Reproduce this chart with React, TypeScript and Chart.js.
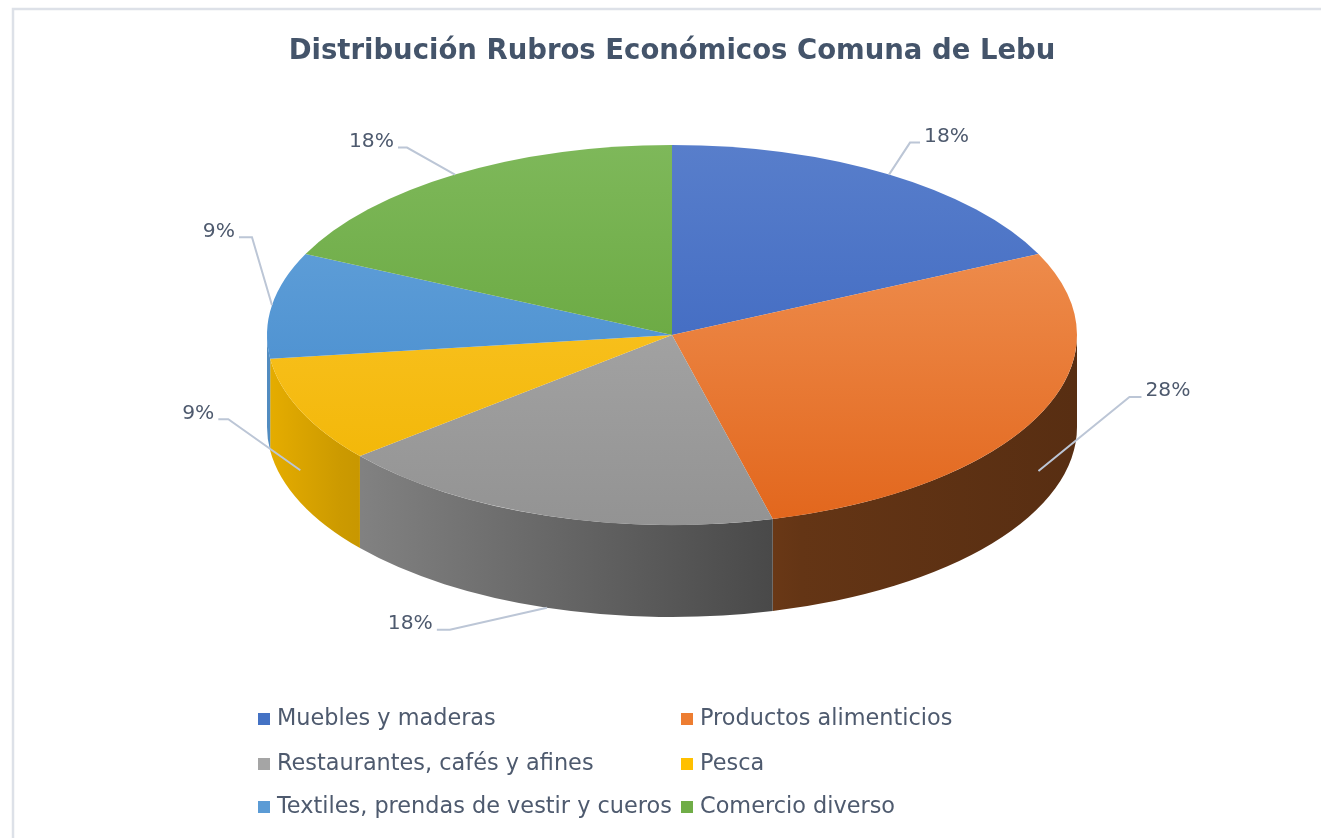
import React, { useEffect, useRef } from "react";
import { Chart, registerables } from "chart.js";

Chart.register(...registerables);

// ---------------- data ----------------
const TITLE = "Distribución Rubros Económicos Comuna de Lebu";
const CATEGORIES = [
  "Muebles y maderas",
  "Productos alimenticios",
  "Restaurantes, cafés y afines",
  "Pesca",
  "Textiles, prendas de vestir y cueros",
  "Comercio diverso",
];
const VALUES = [18, 28, 18, 9, 9, 18];

// ---------------- style ----------------
const BASE_COLORS = ["#4472C4", "#ED7D31", "#A5A5A5", "#FFC000", "#5B9BD5", "#70AD47"];
const TOP_LIGHT = ["#587ECB", "#F29A5E", "#B0B0B0", "#FFCA36", "#69A6DC", "#7EB85A"];
const TOP_DARK = ["#335FBD", "#E2661C", "#939393", "#F0B400", "#3D85CA", "#5C9E30"];
const WALL_STOPS: [number, number][] = [
  [0, 0.9],
  [0.09, 0.8],
  [0.66, 0.42],
  [1, 0.37],
];
// leader-line layout per slice: fraction of wall depth for anchor, elbow offset, tail length
const LABEL_LAYOUT = [
  { depth: 0, dx: 21, dy: -32, tail: 10 },
  { depth: 0.6, dx: 91, dy: -74, tail: 12 },
  { depth: 1, dx: -97, dy: 22, tail: 13 },
  { depth: 0.65, dx: -72, dy: -51, tail: 10 },
  { depth: 0, dx: -20, dy: -68, tail: 13 },
  { depth: 0, dx: -48, dy: -27, tail: 9 },
];

const W = 1321;
const H = 838;
const PIE_CX = 672;
const PIE_RX = 405;
const PIE_CY = 335;
const PIE_RY = 190;
const DEPTH = 92;
const FONT = "'DejaVu Sans', 'Open Sans', sans-serif";
const TEXT_COLOR = "#4E5A6E";
const TITLE_COLOR = "#44546A";
const LEADER_COLOR = "#BCC6D6";
const LEGEND_COLS_X = [258, 681];
const LEGEND_ROWS_Y = [719, 764, 807];

function shade(hex: string, f: number) {
  const n = parseInt(hex.slice(1), 16);
  const r = Math.round(((n >> 16) & 255) * f);
  const g = Math.round(((n >> 8) & 255) * f);
  const b = Math.round((n & 255) * f);
  return `rgb(${r},${g},${b})`;
}

function fitFont(ctx: CanvasRenderingContext2D, text: string, target: number, weight: string) {
  ctx.font = `${weight} 20px ${FONT}`;
  const w = ctx.measureText(text).width;
  const size = (20 * target) / w;
  return `${weight} ${size.toFixed(2)}px ${FONT}`;
}

const pie3d = {
  id: "pie3d",
  beforeDatasetsDraw(chart: any) {
    const ctx: CanvasRenderingContext2D = chart.ctx;
    const arcs = chart.getDatasetMeta(0).data as any[];
    if (!arcs.length) return;
    const cx = arcs[0].x;
    const cy0 = arcs[0].y;
    const r = arcs[0].outerRadius;
    arcs.forEach((arc: any, i: number) => {
      const lo = Math.max(arc.startAngle, 0);
      const hi = Math.min(arc.endAngle, Math.PI);
      if (hi <= lo) return;
      ctx.beginPath();
      ctx.ellipse(cx, PIE_CY, r, PIE_RY, 0, lo, hi, false);
      ctx.ellipse(cx, PIE_CY + DEPTH, r, PIE_RY, 0, hi, lo, true);
      ctx.closePath();
      const g = ctx.createLinearGradient(cx - r, 0, cx + r, 0);
      WALL_STOPS.forEach(([p, f]) => g.addColorStop(p, shade(BASE_COLORS[i], f)));
      ctx.fillStyle = g;
      ctx.fill();
    });
    ctx.save();
    ctx.translate(0, PIE_CY);
    ctx.scale(1, PIE_RY / r);
    ctx.translate(0, -cy0);
  },
  afterDatasetsDraw(chart: any) {
    chart.ctx.restore();
  },
  afterDraw(chart: any) {
    const ctx: CanvasRenderingContext2D = chart.ctx;
    const arcs = chart.getDatasetMeta(0).data as any[];
    const total = VALUES.reduce((a, b) => a + b, 0);
    ctx.save();
    // frame
    ctx.strokeStyle = "#DDE1E8";
    ctx.lineWidth = 2.5;
    ctx.beginPath();
    ctx.moveTo(13, H);
    ctx.lineTo(13, 9);
    ctx.lineTo(W, 9);
    ctx.stroke();

    // title
    ctx.fillStyle = TITLE_COLOR;
    ctx.font = fitFont(ctx, TITLE, 767, "bold");
    ctx.textAlign = "center";
    ctx.textBaseline = "middle";
    ctx.fillText(TITLE, PIE_CX, 52);

    // data labels
    if (arcs.length) {
      const cx = arcs[0].x;
      const r = arcs[0].outerRadius;
      ctx.font = fitFont(ctx, "18%", 45, "normal");
      arcs.forEach((arc: any, i: number) => {
        const L = LABEL_LAYOUT[i];
        const mid = (arc.startAngle + arc.endAngle) / 2;
        const ax = cx + r * Math.cos(mid);
        const ay = PIE_CY + PIE_RY * Math.sin(mid) + DEPTH * L.depth;
        const ex = ax + L.dx;
        const ey = ay + L.dy;
        const dir = L.dx >= 0 ? 1 : -1;
        const hx = ex + dir * L.tail;
        ctx.strokeStyle = LEADER_COLOR;
        ctx.lineWidth = 2;
        ctx.beginPath();
        ctx.moveTo(ax, ay);
        ctx.lineTo(ex, ey);
        ctx.lineTo(hx, ey);
        ctx.stroke();
        ctx.fillStyle = TEXT_COLOR;
        ctx.textAlign = dir > 0 ? "left" : "right";
        ctx.textBaseline = "middle";
        const pct = Math.round((VALUES[i] / total) * 100) + "%";
        ctx.fillText(pct, hx + dir * 4, ey - 6);
      });
    }

    // legend
    ctx.font = fitFont(ctx, CATEGORIES[4], 395, "normal");
    ctx.textAlign = "left";
    ctx.textBaseline = "middle";
    CATEGORIES.forEach((name, i) => {
      const x = LEGEND_COLS_X[i % 2];
      const y = LEGEND_ROWS_Y[Math.floor(i / 2)];
      ctx.fillStyle = BASE_COLORS[i];
      ctx.fillRect(x, y - 6, 12, 12);
      ctx.fillStyle = TEXT_COLOR;
      ctx.fillText(name, x + 19, y);
    });
    ctx.restore();
  },
};

export default function App() {
  const ref = useRef<HTMLCanvasElement | null>(null);
  useEffect(() => {
    if (!ref.current) return;
    const chart = new Chart(ref.current, {
      type: "pie",
      data: {
        labels: CATEGORIES,
        datasets: [
          {
            data: VALUES,
            borderWidth: 0,
            clip: false as any,
            backgroundColor: (c: any) => {
              const i = c.dataIndex;
              const area = c.chart.chartArea;
              if (!area || i === undefined) return BASE_COLORS[i ?? 0];
              const cy = (area.top + area.bottom) / 2;
              const r = Math.min(area.width, area.height) / 2;
              const g = c.chart.ctx.createLinearGradient(0, cy - r, 0, cy + r);
              g.addColorStop(0, TOP_LIGHT[i]);
              g.addColorStop(1, TOP_DARK[i]);
              return g;
            },
          } as any,
        ],
      },
      options: {
        animation: false,
        responsive: false,
        events: [],
        layout: {
          padding: { left: PIE_CX - PIE_RX, right: W - PIE_CX - PIE_RX, top: 0, bottom: 0 },
        },
        plugins: {
          legend: { display: false },
          title: { display: false },
          tooltip: { enabled: false },
        },
      },
      plugins: [pie3d],
    });
    return () => chart.destroy();
  }, []);
  return (
    <canvas
      ref={ref}
      width={W}
      height={H}
      style={{ position: "fixed", left: 0, top: 0, width: W, height: H, background: "#fff" }}
    />
  );
}
